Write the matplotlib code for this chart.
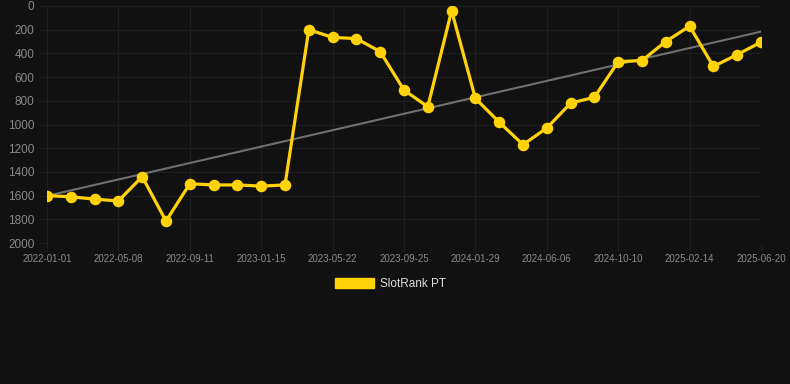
import numpy as np
import matplotlib.pyplot as plt
from matplotlib.patches import Patch

# Dades (llegides del gràfic)
tick_labels = ['2022-01-01', '2022-05-08', '2022-09-11', '2023-01-15', '2023-05-22',
               '2023-09-25', '2024-01-29', '2024-06-06', '2024-10-10', '2025-02-14',
               '2025-06-20']
rank = [1600, 1610, 1630, 1645, 1440, 1815, 1500, 1510, 1510, 1520, 1510,
        200, 265, 275, 385, 710, 850, 40, 780, 980, 1170, 1030, 820, 770,
        470, 460, 300, 170, 510, 410, 305]
series_name = 'SlotRank PT'

bg = '#111111'
yellow = '#FFD20A'
x = np.arange(len(rank))

fig = plt.figure(figsize=(7.9, 3.84), dpi=100, facecolor=bg)
ax = fig.add_axes([47 / 790, 1 - 243 / 384, (761 - 47) / 790, (243 - 6) / 384])
ax.set_facecolor(bg)

# Línia de tendència
coef = np.polyfit(x, rank, 1)
ax.plot(x, np.polyval(coef, x), color='#707070', linewidth=1.5, zorder=2)

ax.plot(x, rank, color=yellow, linewidth=2.3, marker='o', markersize=7.3, zorder=3)

ax.set_xlim(0, len(rank) - 1)
ax.set_ylim(2000, 0)
ax.set_yticks(range(0, 2001, 200))
ax.set_xticks(x[::3])
ax.set_xticklabels(tick_labels)

for s in ax.spines.values():
    s.set_visible(False)
ax.grid(True, color='#1e1e1e', linewidth=0.8)
ax.set_axisbelow(True)
ax.tick_params(axis='y', colors='#1e1e1e', labelcolor='#8a8a8a', labelsize=8.5,
               length=6, pad=3)
ax.tick_params(axis='x', colors='#1e1e1e', labelcolor='#8a8a8a', labelsize=7,
               length=6, pad=2)
for lab in ax.get_xticklabels() + ax.get_yticklabels():
    lab.set_fontfamily('Liberation Sans')

# Llegenda
handle = Patch(facecolor=yellow, edgecolor=yellow)
leg = fig.legend([handle], [series_name], loc='center', bbox_to_anchor=(0.494, 1 - 284 / 384),
                 frameon=False, handlelength=3.3, handleheight=0.9, handletextpad=0.5,
                 prop={'family': 'Liberation Sans', 'size': 8.5})
for t in leg.get_texts():
    t.set_color('#dddddd')

fig.savefig('out.png', dpi=100, facecolor=bg)
